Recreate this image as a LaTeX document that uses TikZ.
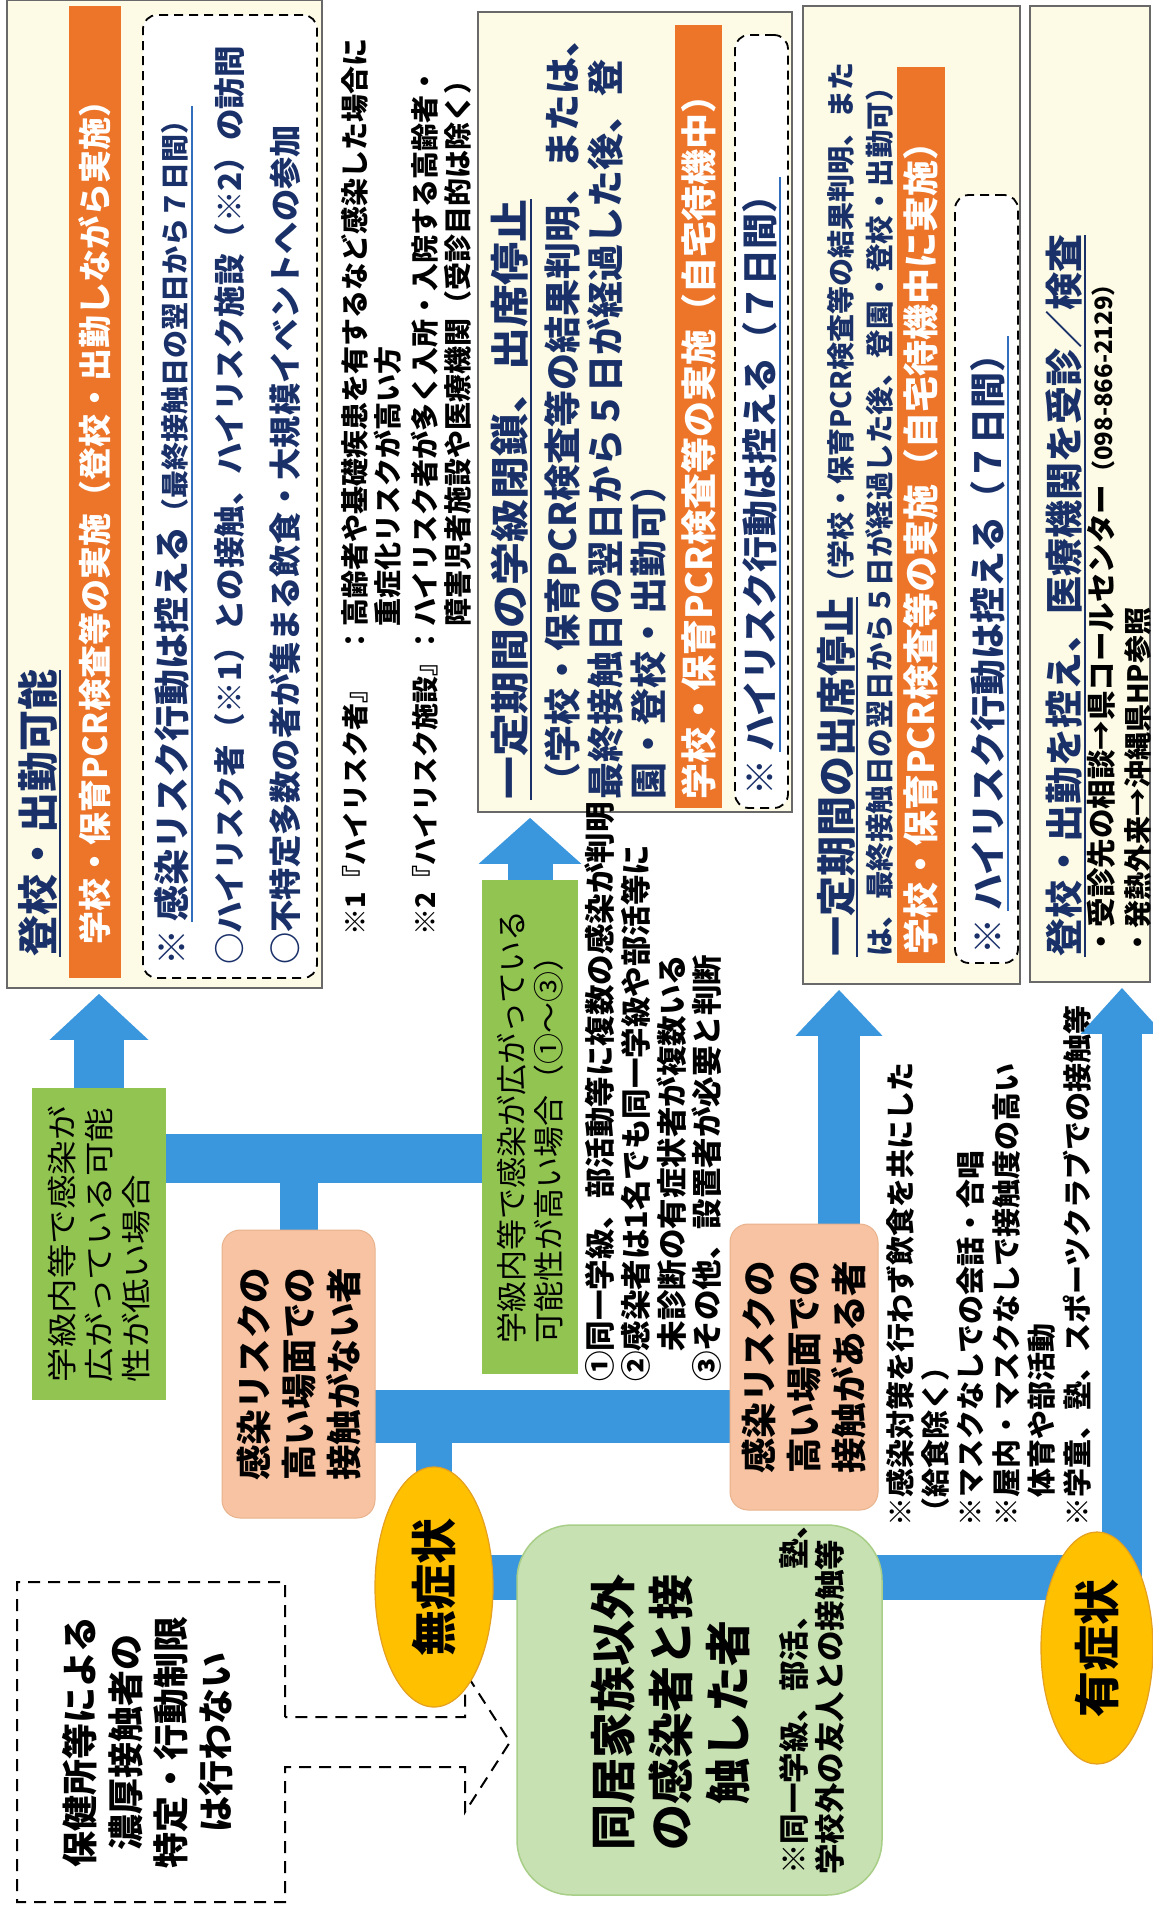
\documentclass[tikz,border=0pt]{standalone}
\usepackage{fontspec}
\setmainfont{Noto Sans CJK JP}
\usetikzlibrary{shapes.geometric,arrows.meta,backgrounds}

\definecolor{flowblue}{RGB}{58,150,221}
\definecolor{cream}{RGB}{253,251,230}
\definecolor{framegray}{RGB}{105,105,105}
\definecolor{barorange}{RGB}{237,117,42}
\definecolor{navy}{RGB}{25,48,105}
\definecolor{ruleblue}{RGB}{50,110,190}
\definecolor{leafgreen}{RGB}{146,196,82}
\definecolor{peach}{RGB}{247,195,162}
\definecolor{peachedge}{RGB}{232,178,140}
\definecolor{gold}{RGB}{255,192,0}
\definecolor{goldedge}{RGB}{228,160,30}
\definecolor{mint}{RGB}{199,225,178}
\definecolor{mintedge}{RGB}{168,206,136}

\newcommand{\fsz}[2]{\fontsize{#1pt}{#2pt}\selectfont}

\begin{document}
\begin{tikzpicture}
    [x=1pt,y=-1pt,
    %Styles
    boxsize/.style 2 args={minimum width=#1pt,minimum height=#2pt},
    cardframe/.style={draw=framegray,fill=cream,line width=1.6pt,inner sep=0pt},
    orangebar/.style={fill=barorange,inner sep=0pt},
    dashbox/.style={draw,line width=1.8pt,dash pattern=on 9pt off 6pt,rounded corners=14pt,fill=white,inner sep=0pt},
    vtext/.style={rotate=90,inner sep=0pt,align=left,anchor=west},
    navyrule/.style={draw=navy,line width=2pt},
    bluerule/.style={draw=ruleblue,line width=2pt},
    leafbox/.style={fill=leafgreen,rotate=90,inner sep=0pt,align=left,font=\fsz{30}{37}\addfontfeature{FakeStretch=1.15}},
    peachbox/.style={fill=peach,draw=peachedge,line width=1pt,rounded corners=18pt,rotate=90,inner sep=0pt,align=center,font=\bfseries\fsz{35.5}{45}},
    mintbox/.style={fill=mint,draw=mintedge,line width=1.5pt,rounded corners=55pt,inner sep=0pt},
    goldoval/.style={ellipse,fill=gold,draw=goldedge,line width=1.2pt,rotate=90,inner sep=0pt,font=\bfseries\fsz{46}{50}},
    hintline/.style={draw,line width=2pt,dash pattern=on 12pt off 8pt},
    flowbar/.style={draw=flowblue,line width=#1pt},
    flowarrow/.style 2 args={draw=flowblue,line width=#1pt,-{Triangle[width=#2pt,length=46pt]},shorten >=5pt}
    ]
    \useasboundingbox (0,0) rectangle (1152,1908);

    %Result boxes
    \node[cardframe,boxsize={315}{988}] (boxA) at (164.5,494) {};
    \node[orangebar,boxsize={52}{972}] (barA) at (95,492) {};
    \node[dashbox,boxsize={174}{963}] (dashA) at (230,496.5) {};
    \node[cardframe,boxsize={314}{800}] (boxB) at (635,412) {};
    \node[orangebar,boxsize={47}{783}] (barB) at (698.5,416.5) {};
    \node[dashbox,boxsize={53}{773}] (dashB) at (761.5,421.5) {};
    \node[cardframe,boxsize={217}{978}] (boxC) at (911.5,495) {};
    \node[orangebar,boxsize={48}{896}] (barC) at (921,515) {};
    \node[dashbox,boxsize={63}{768}] (dashC) at (986.5,579) {};
    \node[cardframe,boxsize={120}{976}] (boxD) at (1090,494) {};

    %Texts of box A
    \node[vtext,text=navy,font=\bfseries\fsz{41}{48}] (titleA) at (38,957) {登校・出勤可能};
    \draw[navyrule] ([xshift=2pt]titleA.south west) -- ([xshift=2pt]titleA.south east);
    \node[vtext,text=white,font=\bfseries\fsz{33}{40}] (barAtext) at (95,945) {学校・保育PCR検査等の実施（登校・出勤しながら実施）};
    \node[vtext,text=navy,font=\bfseries\fsz{36}{44}] (starA) at (172,966) {※};
    \node[vtext,text=navy,font=\bfseries\fsz{36}{44}] (ruleA) at ([yshift=8pt]starA.east) {感染リスク行動は控える{\fsz{28}{34}（最終接触日の翌日から７日間）}};
    \draw[bluerule] ([xshift=2pt]ruleA.south west) -- ([xshift=2pt]ruleA.south east);
    \node[vtext,text=navy,font=\bfseries\fsz{31.5}{38}] (riskA) at (230,965) {○ハイリスク者（※1）との接触、ハイリスク施設（※2）の訪問};
    \node[vtext,text=navy,font=\bfseries\fsz{32.3}{38}] (eventA) at (285,965) {○不特定多数の者が集まる飲食・大規模イベントへの参加};

    %Notes
    \node[vtext,font=\bfseries\fsz{27}{32}] (note1) at (355,936) {※1『ハイリスク者』};
    \node[vtext,font=\bfseries\fsz{28}{33}] (note1b) at (371.5,655) {：高齢者や基礎疾患を有するなど感染した場合に\\\hspace*{1em}重症化リスクが高い方};
    \node[vtext,font=\bfseries\fsz{27}{32}] (note2) at (425,936) {※2『ハイリスク施設』};
    \node[vtext,font=\bfseries\fsz{28}{33}] (note2b) at (441.5,655) {：ハイリスク者が多く入所・入院する高齢者・\\\hspace*{1em}障害児者施設や医療機関（受診目的は除く）};

    %Texts of box B
    \node[vtext,text=navy,font=\bfseries\fsz{39}{48}\addfontfeature{FakeStretch=1.1}] (titleB) at (510,800) {一定期間の学級閉鎖、出席停止};
    \draw[navyrule] ([xshift=2pt]titleB.south west) -- ([xshift=2pt]titleB.south east);
    \node[vtext,text=navy,font=\bfseries\fsz{37}{43}] (detailB) at (605,800) {（学校・保育PCR検査等の結果判明、または、\\最終接触日の翌日から５日が経過した後、登\\園・登校・出勤可）};
    \node[vtext,text=white,font=\bfseries\fsz{36}{42}] (barBtext) at (698.5,800) {学校・保育PCR検査等の実施（自宅待機中）};
    \node[vtext,text=navy,font=\bfseries\fsz{36}{42}] (starB) at (760,796) {※};
    \node[vtext,text=navy,font=\bfseries\fsz{36}{42}] (ruleB) at ([yshift=8pt]starB.east) {ハイリスク行動は控える（７日間）};
    \draw[bluerule] ([xshift=2pt]ruleB.south west) -- ([xshift=2pt]ruleB.south east);

    %Texts of box C
    \node[vtext,text=navy,font=\bfseries\fsz{40}{46}] (titleC) at (836,957) {一定期間の出席停止};
    \node[vtext,anchor=base west,text=navy,font=\bfseries\fsz{28}{34}] (subC) at (titleC.base east) {（学校・保育PCR検査等の結果判明、また};
    \draw[navyrule] ([xshift=2pt]titleC.south west) -- ([xshift=2pt]titleC.south east);
    \node[vtext,text=navy,font=\bfseries\fsz{28.5}{34}] (detailC) at (880,957) {は、最終接触日の翌日から５日が経過した後、登園・登校・出勤可）};
    \node[vtext,text=white,font=\bfseries\fsz{36}{42}] (barCtext) at (921,955) {学校・保育PCR検査等の実施（自宅待機中に実施）};
    \node[vtext,text=navy,font=\bfseries\fsz{36}{42}] (starC) at (988,955) {※};
    \node[vtext,text=navy,font=\bfseries\fsz{36}{42}] (ruleC) at ([yshift=8pt]starC.east) {ハイリスク行動は控える（７日間）};
    \draw[bluerule] ([xshift=2pt]ruleC.south west) -- ([xshift=2pt]ruleC.south east);

    %Texts of box D
    \node[vtext,text=navy,font=\bfseries\fsz{38}{44}] (titleD) at (1064,957) {登校・出勤を控え、医療機関を受診／検査};
    \draw[navyrule] ([xshift=2pt]titleD.south west) -- ([xshift=2pt]titleD.south east);
    \node[vtext,font=\bfseries\fsz{29.5}{34}] (callD) at (1101,957) {・受診先の相談→県コールセンター{\fsz{24}{28}（098-866-2129）}};
    \node[vtext,font=\bfseries\fsz{28}{34}] (feverD) at (1138,957) {・発熱外来→沖縄県HP参照};

    %Branch boxes
    \node[leafbox,boxsize={312}{134}] (g1) at (99,1244) {学級内等で感染が\\広がっている可能\\性が低い場合};
    \node[leafbox,boxsize={494}{96},font=\fsz{31}{37}] (g2) at (530,1127) {学級内等で感染が広がっている\\可能性が高い場合（①〜③）};
    \node[peachbox,boxsize={288}{153}] (p1) at (298.5,1374) {感染リスクの\\高い場面での\\接触がない者};
    \node[peachbox,boxsize={286}{148}] (p2) at (804,1367) {感染リスクの\\高い場面での\\接触がある者};
    \node[vtext,font=\bfseries\fsz{30.5}{35.7}] (criteria) at (653.5,1382) {①同一学級、部活動等に複数の感染が判明\\②感染者は1名でも同一学級や部活等に\\\hspace*{1em}未診断の有症状者が複数いる\\③その他、設置者が必要と判断};
    \node[vtext,font=\bfseries\fsz{29}{35.4}] (scenes) at (988.5,1527) {※感染対策を行わず飲食を共にした\\（給食除く）\\※マスクなしでの会話・合唱\\※屋内・マスクなしで接触度の高い\\\hspace*{1em}体育や部活動\\※学童、塾、スポーツクラブでの接触等};

    %Start
    \node[mintbox,boxsize={365}{370}] (g3) at (699.5,1710) {};
    \node[vtext,anchor=center,align=center,font=\bfseries\fsz{46}{57.5}] (g3text) at (670.5,1712) {同居家族以外\\の感染者と接\\触した者};
    \node[vtext,font=\bfseries\fsz{30.5}{36}] (g3note) at (812,1875) {※同一学級、部活、　塾、\\学校外の友人との接触等};
    \node[goldoval,boxsize={240}{118}] (mushou) at (434,1587) {無症状};
    \node[goldoval,boxsize={232}{112}] (ushou) at (1097,1648) {有症状};
    \node[vtext,anchor=center,align=center,font=\bfseries\fsz{36}{45.3}] (hokenjo) at (148,1742) {保健所等による\\濃厚接触者の\\特定・行動制限\\は行わない};

    %Flows
    \coordinate (h1) at (0,1158.5);
    \coordinate (h2) at (0,1416.5);
    \coordinate (h3) at (0,1577.5);
    \begin{scope}[on background layer]
      \fill[white] (0,0) rectangle (1152,1908);
      \draw[hintline] (285,1717) -- (285,1582) -- (17,1582) -- (17,1902) -- (285,1902) -- (285,1767) -- (465,1767) -- (465,1812) -- (510,1742) -- (465,1672) -- (465,1717) -- cycle;
      \draw[flowbar=49] (g1.center |- h1) -- (g2.center |- h1);
      \draw[flowbar=38] (p1.center) -- (p1.center |- h1);
      \draw[flowbar=53] (p1.center |- h2) -- (p2.center |- h2);
      \draw[flowbar=36] (mushou.center) -- (mushou.center |- h2);
      \draw[flowbar=45] (mushou.center |- h3) -- (ushou.center |- h3);
      \draw[flowarrow={50}{96}] (g1.center) -- (g1.center |- boxA.south);
      \draw[flowarrow={45}{100}] (g2.center) -- (g2.center |- boxB.south);
      \draw[flowarrow={42}{84}] ([xshift=35pt]p2.center) -- ([xshift=35pt]p2.center |- boxC.south);
      \draw[flowarrow={40}{80}] ([xshift=25pt]ushou.center) -- ([xshift=25pt]ushou.center |- boxD.south);
    \end{scope}
\end{tikzpicture}
\end{document}
